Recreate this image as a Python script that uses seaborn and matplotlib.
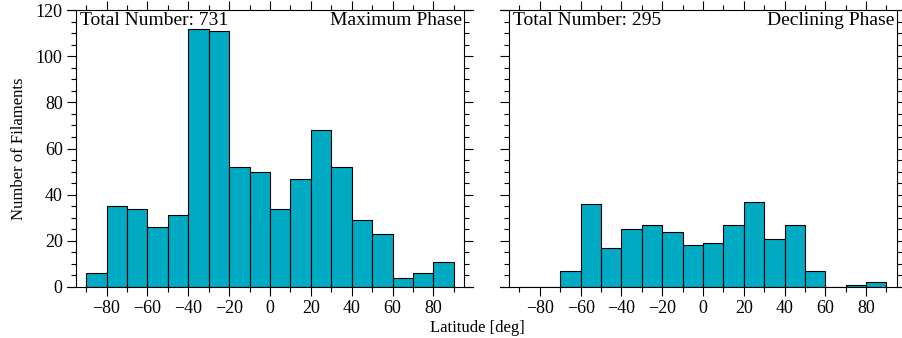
import numpy as np
import matplotlib
matplotlib.use('Agg')
import matplotlib.pyplot as plt
from matplotlib.ticker import MultipleLocator
import seaborn as sns

# bin edges in latitude (deg) and filament counts per bin
edges = list(range(-90, 91, 10))
max_counts = [6, 35, 34, 26, 31, 112, 111, 52, 50, 34, 47, 68, 52, 29, 23, 4, 6, 11]
dec_counts = [0, 0, 7, 36, 17, 25, 27, 24, 18, 19, 27, 37, 21, 27, 7, 0, 1, 2]
titles = ['Maximum Phase', 'Declining Phase']
totals = [731, 295]

sns.set_theme(style='ticks', rc={'text.color': 'black', 'axes.labelcolor': 'black',
                                 'xtick.color': 'black', 'ytick.color': 'black',
                                 'axes.edgecolor': 'black'})
plt.rcParams['font.family'] = ['Liberation Serif', 'DejaVu Serif']
plt.rcParams['axes.unicode_minus'] = True

fig = plt.figure(figsize=(9.03, 3.38), dpi=100)
ax1 = fig.add_axes([0.084, 0.151, 0.430, 0.819])
ax2 = fig.add_axes([0.564, 0.151, 0.429, 0.819])

centers = [e + 5 for e in edges[:-1]]
for ax, counts, title, tot in zip([ax1, ax2], [max_counts, dec_counts], titles, totals):
    sns.histplot(x=centers, weights=counts, bins=edges, ax=ax, color='#00AAC3',
                 alpha=1, edgecolor='black', linewidth=0.8)
    ax.set_xlim(-95, 95)
    ax.set_ylim(0, 120)
    ax.xaxis.set_major_locator(MultipleLocator(20))
    ax.xaxis.set_minor_locator(MultipleLocator(10))
    ax.yaxis.set_major_locator(MultipleLocator(20))
    ax.yaxis.set_minor_locator(MultipleLocator(5))
    ax.tick_params(which='both', direction='out', top=True, right=True, labelsize=13, width=0.8)
    ax.tick_params(which='major', length=6.5, pad=3)
    ax.tick_params(which='minor', length=3.5)
    ax.set_xlabel('')
    ax.set_ylabel('')
    for s in ax.spines.values():
        s.set_linewidth(0.8)
        s.set_visible(True)
    ax.spines['top'].set_bounds(-99.4, 99.4)
    ax.spines['bottom'].set_bounds(-99.4, 99.4)
    ax.text(0.01, 0.995, 'Total Number: %d' % tot, transform=ax.transAxes,
            ha='left', va='top', fontsize=14)
    ax.text(0.995, 0.995, title, transform=ax.transAxes,
            ha='right', va='top', fontsize=14)

ax2.set_yticklabels([])
ax1.set_ylabel('Number of Filaments', fontsize=12, labelpad=6)
fig.text(0.529, 0.03, 'Latitude [deg]', ha='center', va='center', fontsize=12)

fig.savefig('out.png', dpi=100)
